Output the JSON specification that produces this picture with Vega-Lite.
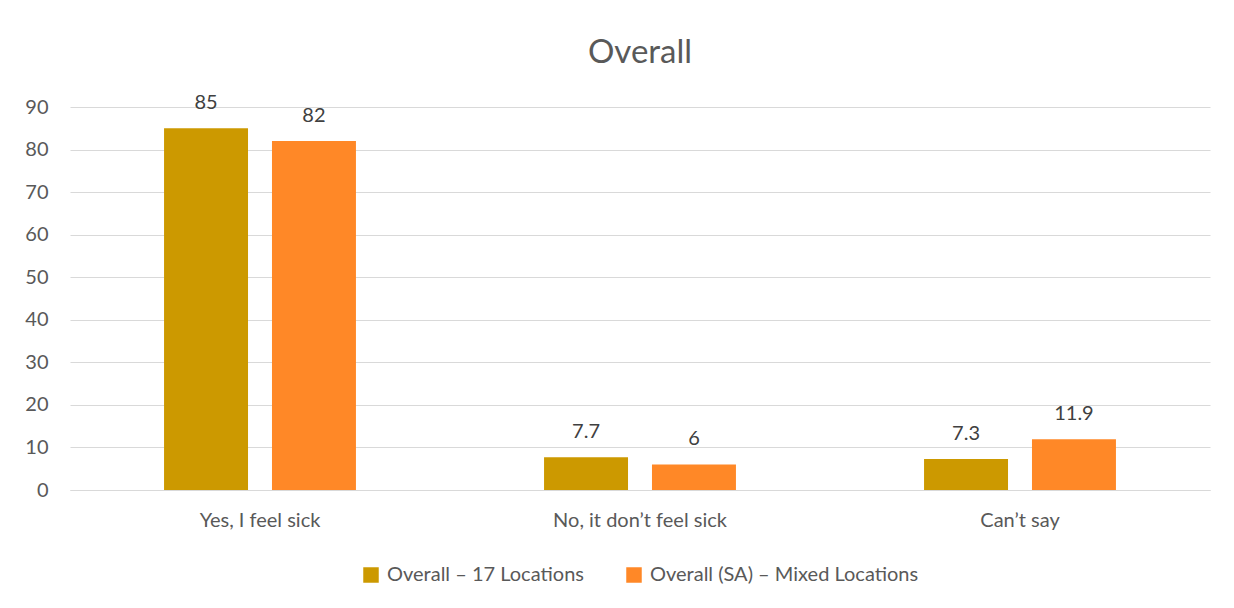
{
  "$schema": "https://vega.github.io/schema/vega-lite/v6.json",
  "width": 1140,
  "height": 383,
  "autosize": {"type": "none"},
  "padding": {"left": 70, "top": 107, "right": 24, "bottom": 118},
  "background": "white",
  "title": {"text": "Overall", "fontSize": 33, "font": "Lato", "fontWeight": "normal", "color": "#595959", "offset": 23, "anchor": "middle"},
  "config": {
    "font": "Lato",
    "view": {"stroke": null},
    "axis": {"labelFont": "Lato", "labelColor": "#595959", "labelFontSize": 20, "titleFont": "Lato"},
    "legend": {"labelFont": "Lato", "labelColor": "#595959", "labelFontSize": 20, "layout": {"bottom": {"anchor": "middle"}}}
  },
  "data": {
    "values": [
      {"answer": "Yes, I feel sick", "series": "Overall – 17 Locations", "value": 85},
      {"answer": "Yes, I feel sick", "series": "Overall (SA) – Mixed Locations", "value": 82},
      {"answer": "No, it don’t feel sick", "series": "Overall – 17 Locations", "value": 7.7},
      {"answer": "No, it don’t feel sick", "series": "Overall (SA) – Mixed Locations", "value": 6},
      {"answer": "Can’t say", "series": "Overall – 17 Locations", "value": 7.3},
      {"answer": "Can’t say", "series": "Overall (SA) – Mixed Locations", "value": 11.9}
    ]
  },
  "encoding": {
    "x": {"field": "answer", "type": "nominal", "sort": null, "title": null,
      "scale": {"paddingInner": 0.495, "paddingOuter": 0.2475},
      "axis": {"labelAngle": 0, "ticks": false, "domainColor": "#d9d9d9", "labelPadding": 20}},
    "xOffset": {"field": "series", "type": "nominal", "sort": null, "scale": {"paddingInner": 0.222, "paddingOuter": 0}},
    "y": {"field": "value", "type": "quantitative", "title": null,
      "scale": {"domain": [0, 90]},
      "axis": {"values": [0,10,20,30,40,50,60,70,80,90], "domain": false, "ticks": false, "gridColor": "#d9d9d9", "labelPadding": 22}},
    "color": {"field": "series", "type": "nominal", "sort": null, "title": null,
      "scale": {"range": ["#CC9900", "#FF8827"]},
      "legend": {"orient": "bottom", "direction": "horizontal", "symbolType": "square", "symbolSize": 240, "symbolStrokeWidth": 0, "columnPadding": 40, "offset": 35, "labelLimit": 400, "labelOffset": 6}}
  },
  "layer": [
    {"mark": {"type": "bar"}},
    {"mark": {"type": "text", "dy": -25, "fontSize": 20, "color": "#404040"},
     "encoding": {"text": {"field": "value", "type": "quantitative"}, "color": {"value": "#404040"}}}
  ]
}
